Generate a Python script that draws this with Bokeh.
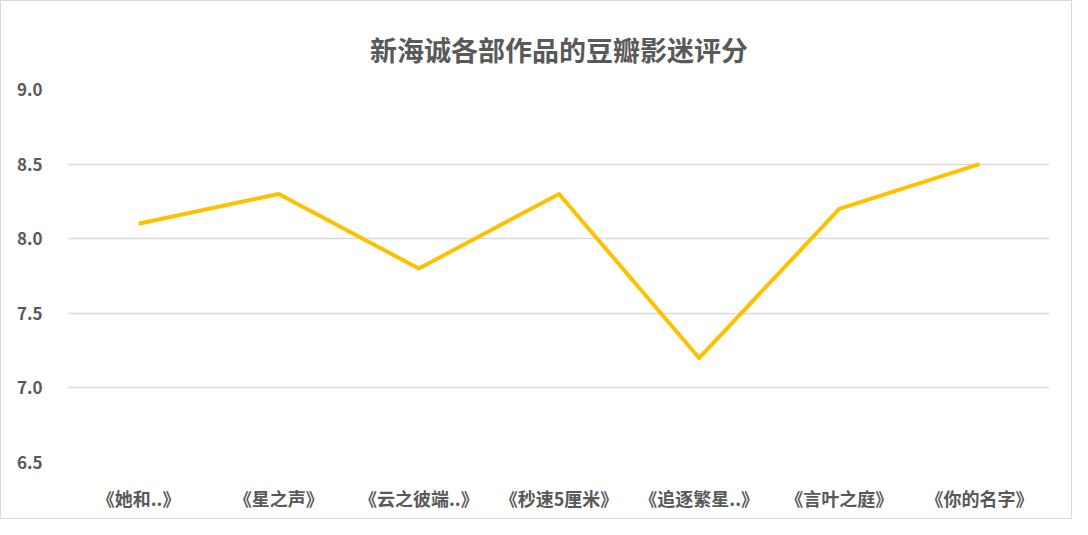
from bokeh.plotting import figure
from bokeh.models import FactorRange, Range1d, FixedTicker, NumeralTickFormatter
from bokeh.embed import file_html
from bokeh.resources import INLINE

# 作品名与豆瓣评分
films = ["《她和..》", "《星之声》", "《云之彼端..》", "《秒速5厘米》",
         "《追逐繁星..》", "《言叶之庭》", "《你的名字》"]
scores = [8.1, 8.3, 7.8, 8.3, 7.2, 8.2, 8.5]
y_ticks = [6.5, 7.0, 7.5, 8.0, 8.5, 9.0]

font = "Noto Sans CJK SC"
grey = "#595959"

p = figure(
    title="新海诚各部作品的豆瓣影迷评分",
    x_range=FactorRange(*films, range_padding=0),
    y_range=Range1d(6.5, 9.0),
    width=1072,
    height=519,
    output_backend="svg",
    toolbar_location=None,
    min_border_left=67,
    min_border_right=24,
    min_border_top=88,
    min_border_bottom=58,
)

p.line(films, scores, line_color="#FFC000", line_width=4, line_join="round")

# 标题
p.title.align = "center"
p.title.text_font = font
p.title.text_font_size = "27px"
p.title.text_font_style = "bold"
p.title.text_color = grey
p.title.offset = 0
p.title.standoff = 42

# 坐标轴
p.yaxis.ticker = FixedTicker(ticks=y_ticks)
p.yaxis.formatter = NumeralTickFormatter(format="0.0")
for ax in (p.xaxis, p.yaxis):
    ax.axis_line_color = None
    ax.major_tick_line_color = None
    ax.minor_tick_line_color = None
    ax.major_label_text_font = font
    ax.major_label_text_font_style = "bold"
    ax.major_label_text_color = grey
p.xaxis.major_label_text_font_size = "18px"
p.yaxis.major_label_text_font_size = "17px"
p.yaxis.major_label_standoff = 20
p.xaxis.major_label_standoff = 16

p.xgrid.grid_line_color = None
p.ygrid.grid_line_color = "#D9D9D9"
p.ygrid.grid_line_width = 1.5
p.outline_line_color = None
p.styles = {"border": "1px solid #D9D9D9", "box-sizing": "border-box"}

open("out.html", "w").write(file_html(p, INLINE))
